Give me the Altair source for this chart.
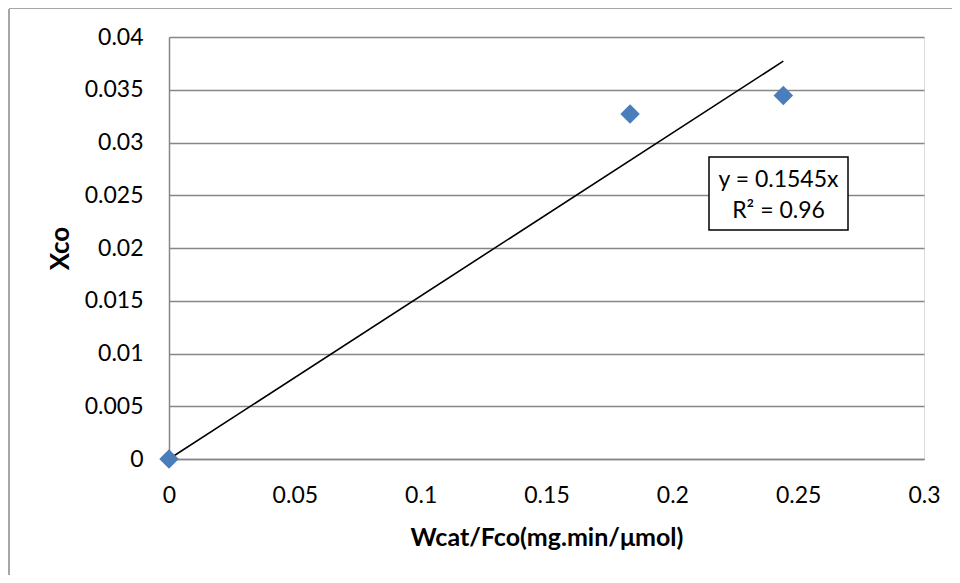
import altair as alt
import pandas as pd

# data
wcat_fco = [0.0, 0.1832, 0.2441]
xco = [0.0, 0.0327, 0.03445]
slope = 0.1545
r2 = 0.96
x_ticks = [0, 0.05, 0.1, 0.15, 0.2, 0.25, 0.3]
y_ticks = [0, 0.005, 0.01, 0.015, 0.02, 0.025, 0.03, 0.035, 0.04]

pts = pd.DataFrame({"x": wcat_fco, "y": xco})
trend = pd.DataFrame({"x": [0.0, max(wcat_fco)],
                      "y": [0.0, slope * max(wcat_fco)]})

FONT = "Lato"
W, H = 755, 422
LS = 23

xs = alt.Scale(domain=[0, 0.3], nice=False, zero=True)
ys = alt.Scale(domain=[0, 0.04], nice=False, zero=True)

x_axis = alt.Axis(values=x_ticks, title="Wcat/Fco(mg.min/μmol)", grid=False,
                  ticks=False, labelPadding=36, labelBaseline="middle",
                  labelFontSize=LS, labelFont=FONT, labelColor="black",
                  titleFont=FONT, titleFontSize=25, titleFontWeight="bold",
                  titleColor="black", titleY=78, titleBaseline="middle",
                  domainColor="#868686", domainWidth=1.5, labelFlush=False,
                  labelOverlap=False, format="~g")
y_axis = alt.Axis(values=y_ticks, title="Xco", grid=True, gridColor="#868686",
                  gridWidth=1.3, ticks=False, labelPadding=26,
                  labelFontSize=LS, labelFont=FONT, labelColor="black",
                  titleFont=FONT, titleFontSize=26, titleFontWeight="bold",
                  titleColor="black", titleX=-109, titleBaseline="middle",
                  domainColor="#868686", domainWidth=1.5, labelFlush=False,
                  labelOverlap=False, format="~g")

base = alt.Chart(pts)

one = pd.DataFrame({"a": [0]})
border_left = alt.Chart(one).mark_rule(color="#a6a6a6", strokeWidth=2).encode(
    x=alt.value(-160), y=alt.value(-28), y2=alt.value(H + 200))
border_top = alt.Chart(one).mark_rule(color="#a6a6a6", strokeWidth=2).encode(
    x=alt.value(-160), x2=alt.value(W + 200), y=alt.value(-29))

points = base.mark_point(shape="diamond", filled=True, opacity=1,
                         color="#4a7ebb", size=380).encode(
    x=alt.X("x:Q", scale=xs, axis=x_axis),
    y=alt.Y("y:Q", scale=ys, axis=y_axis),
)

line = alt.Chart(trend).mark_line(color="black", strokeWidth=1.6).encode(
    x=alt.X("x:Q", scale=xs), y=alt.Y("y:Q", scale=ys))

box = alt.Chart(one).mark_rect(
    fill="white", stroke="black", strokeWidth=1.5
).encode(x=alt.value(540), x2=alt.value(679), y=alt.value(120), y2=alt.value(193))

t1 = alt.Chart(pd.DataFrame({"t": [f"y = {slope}x"]})).mark_text(
    font=FONT, fontSize=LS, color="black", align="center", baseline="middle"
).encode(text="t:N", x=alt.value(609.5), y=alt.value(143))
t2 = alt.Chart(pd.DataFrame({"t": [f"R² = {r2}"]})).mark_text(
    font=FONT, fontSize=LS, color="black", align="center", baseline="middle"
).encode(text="t:N", x=alt.value(609.5), y=alt.value(174))

chart = alt.layer(border_left, border_top, line, points, box, t1, t2).properties(
    width=W, height=H,
    autosize=alt.AutoSizeParams(type="none"),
    padding={"left": 161, "top": 29, "right": 28, "bottom": 116},
).configure_view(stroke="black", strokeWidth=1.5).configure(background="white")

chart.save("out.html", embed_options={"renderer": "svg", "actions": False})
